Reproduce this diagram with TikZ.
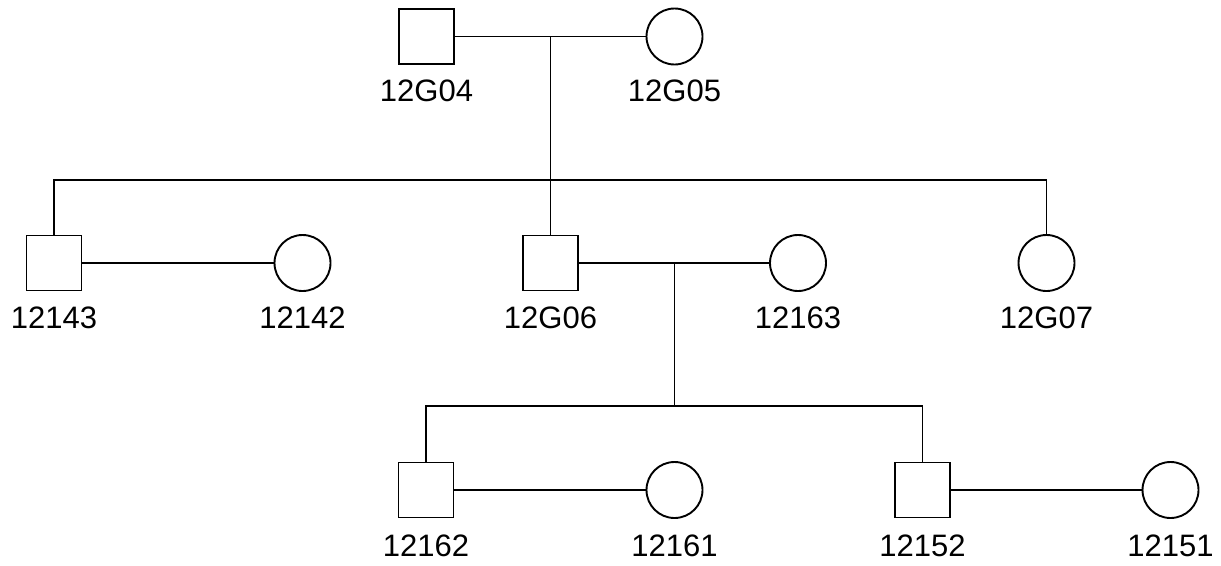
\documentclass[tikz,border=0pt]{standalone}
\usepackage{fontspec}
\setmainfont{Liberation Sans}
\begin{document}
\begin{tikzpicture}[x=1pt,y=-1pt,
  line width=1.9pt,
  male/.style={draw=black,line width=1.9pt,minimum size=55pt,inner sep=0pt,outer sep=0pt,rectangle},
  female/.style={draw=black,line width=1.9pt,minimum size=56pt,inner sep=0pt,outer sep=0pt,circle},
  lab/.style={anchor=base,inner sep=0pt,font=\fontsize{31}{31}\selectfont}]
\useasboundingbox (0,0) rectangle (1221,565);
% generation 1
\node[male] (g04) at (426.5,36.5) {};
\node[female] (g05) at (674.5,36.5) {};
\node[lab] (lg04) at (426.5,101) {12G04};
\node[lab] (lg05) at (674.5,101) {12G05};
% generation 2
\node[male] (n143) at (54,263) {};
\node[female] (n142) at (302.5,263) {};
\node[male] (g06) at (550.5,263) {};
\node[female] (n163) at (798,263) {};
\node[female] (g07) at (1046.5,263) {};
\node[lab] (l143) at (54,328) {12143};
\node[lab] (l142) at (302.5,328) {12142};
\node[lab] (lg06) at (550.5,328) {12G06};
\node[lab] (l163) at (798,328) {12163};
\node[lab] (lg07) at (1046.5,328) {12G07};
% generation 3
\node[male] (n162) at (426,490) {};
\node[female] (n161) at (674.5,490) {};
\node[male] (n152) at (922.5,490) {};
\node[female] (n151) at (1170.5,490) {};
\node[lab] (l162) at (426,556) {12162};
\node[lab] (l161) at (674.5,556) {12161};
\node[lab] (l152) at (922.5,556) {12152};
\node[lab] (l151) at (1170.5,556) {12151};
% coordinates
\coordinate (m1) at (550.5,36.5);
\coordinate (s1) at (550.5,180);
\coordinate (s1l) at (54,180);
\coordinate (s1r) at (1046.5,180);
\coordinate (m2) at (674.5,263);
\coordinate (s2) at (674.5,406);
\coordinate (s2l) at (426,406);
\coordinate (s2r) at (922.5,406);
% marriages
\draw (g04.east) -- (g05.west);
\draw (n143.east) -- (n142.west);
\draw (g06.east) -- (n163.west);
\draw (n162.east) -- (n161.west);
\draw (n152.east) -- (n151.west);
% descent
\draw (m1) -- (s1);
\draw (n143.north) -- (s1l) -- (s1r) -- (g07.north);
\draw (s1) -- (g06.north);
\draw (m2) -- (s2);
\draw (n162.north) -- (s2l) -- (s2r) -- (n152.north);
\end{tikzpicture}
\end{document}
